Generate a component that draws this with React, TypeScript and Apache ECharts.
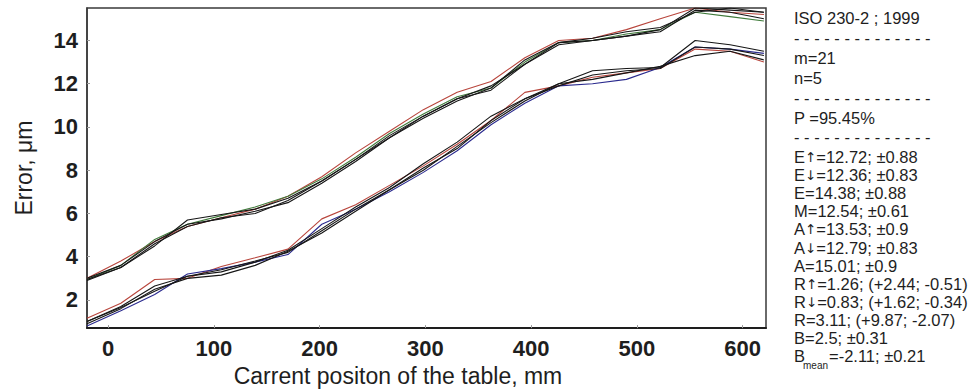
import React, { useEffect, useRef } from "react";
import * as echarts from "echarts";

// Target positions (ISO 230-2, m = 21, irregular spacing), mm
const positions = [-20, 12, 44, 75, 107, 139, 170, 202, 234, 266, 298, 330, 362, 394, 426, 458, 490, 522, 555, 588, 620];

// Upper group of runs
const upperRun1 = [2.95, 3.5, 4.5, 5.7, 5.95, 6.2, 6.7, 7.5, 8.5, 9.5, 10.5, 11.3, 11.9, 12.9, 13.9, 14.0, 14.2, 14.5, 15.5, 15.4, 15.3];
const upperRun2 = [3.0, 3.8, 4.7, 5.4, 5.8, 6.2, 6.8, 7.7, 8.8, 9.8, 10.8, 11.6, 12.1, 13.2, 14.0, 14.1, 14.5, 15.0, 15.5, 15.3, 15.2];
const upperRun3 = [2.95, 3.6, 4.8, 5.5, 5.9, 6.3, 6.8, 7.6, 8.6, 9.7, 10.6, 11.4, 11.8, 13.0, 13.9, 14.0, 14.3, 14.5, 15.3, 15.1, 14.9];
const upperRun4 = [2.9, 3.5, 4.6, 5.4, 5.8, 6.0, 6.6, 7.5, 8.5, 9.6, 10.5, 11.3, 11.7, 12.9, 13.8, 14.0, 14.2, 14.4, 15.4, 15.3, 15.0];
const upperRun5 = [3.0, 3.6, 4.7, 5.5, 5.75, 6.1, 6.5, 7.4, 8.4, 9.5, 10.4, 11.2, 11.8, 13.1, 13.9, 14.1, 14.4, 14.6, 15.3, 15.5, 15.3];

// Lower group of runs
const lowerRun1 = [1.0, 1.7, 2.65, 3.1, 3.3, 3.75, 4.3, 5.3, 6.3, 7.2, 8.3, 9.3, 10.5, 11.3, 12.0, 12.6, 12.7, 12.75, 14.0, 13.8, 13.5];
const lowerRun2 = [1.15, 1.85, 2.95, 3.0, 3.55, 3.95, 4.35, 5.75, 6.4, 7.3, 8.2, 9.2, 10.3, 11.6, 11.9, 12.3, 12.5, 12.7, 13.6, 13.5, 13.0];
const lowerRun3 = [0.8, 1.5, 2.25, 3.2, 3.45, 3.75, 4.1, 5.5, 6.2, 7.0, 7.9, 8.9, 10.1, 11.1, 11.9, 12.0, 12.2, 12.75, 13.7, 13.6, 13.4];
const lowerRun4 = [0.9, 1.6, 2.5, 3.0, 3.15, 3.6, 4.25, 5.1, 6.1, 7.1, 8.0, 9.1, 10.2, 11.2, 12.0, 12.2, 12.5, 12.8, 13.3, 13.5, 13.1];
const lowerRun5 = [1.0, 1.65, 2.4, 3.1, 3.4, 3.8, 4.2, 5.2, 6.2, 7.1, 8.1, 9.0, 10.3, 11.3, 11.9, 12.4, 12.6, 12.7, 13.7, 13.6, 13.3];

const xTicks = [0, 100, 200, 300, 400, 500, 600];
const yTicks = [2, 4, 6, 8, 10, 12, 14];

const DASHES = "- - - - - - - - - - - - - -";
const headerLines = ["ISO 230-2 ; 1999", DASHES, "m=21", "n=5", DASHES, "P =95.45%", DASHES];
const statLines = [
  "E↑=12.72; ±0.88",
  "E↓=12.36; ±0.83",
  "E=14.38; ±0.88",
  "M=12.54; ±0.61",
  "A↑=13.53; ±0.9",
  "A↓=12.79; ±0.83",
  "A=15.01; ±0.9",
  "R↑=1.26; (+2.44; -0.51)",
  "R↓=0.83; (+1.62; -0.34)",
  "R=3.11; (+9.87; -2.07)",
  "B=2.5; ±0.31",
];
const bMeanParts = ["B", "mean", "=-2.11; ±0.21"];

const FONT = "'Liberation Sans', Arial, Helvetica, sans-serif";
const BLACK = "#161616";
const RED = "#b8453c";
const GREEN = "#3f7a3a";
const BLUE = "#2a2a8e";

const runs = [
  { data: upperRun2, color: RED },
  { data: upperRun3, color: GREEN },
  { data: upperRun1, color: BLACK },
  { data: upperRun4, color: BLACK },
  { data: upperRun5, color: BLACK },
  { data: lowerRun2, color: RED },
  { data: lowerRun3, color: BLUE },
  { data: lowerRun1, color: BLACK },
  { data: lowerRun4, color: BLACK },
  { data: lowerRun5, color: BLACK },
];

// Convert arrows into a rich-text fragment drawn with a font whose arrows are full height
function toRich(t: string): string {
  return t.replace(/([↑↓])/g, "{arr|$1}");
}

export default function App() {
  const ref = useRef<HTMLDivElement>(null);
  useEffect(() => {
    if (!ref.current) return;
    const chart = echarts.init(ref.current, null, { renderer: "svg" });

    const textX = 794;
    const baseStyle = { fontSize: 16.5, fontFamily: FONT, fill: "#1e1e1e", verticalAlign: "middle", align: "left" };
    const rich = { arr: { fontSize: 13.5, fontFamily: "'DejaVu Sans', sans-serif", fill: "#1e1e1e" } };
    const graphics: any[] = [];
    headerLines.forEach((t, i) => {
      graphics.push({ type: "text", x: textX, y: 18 + i * 19.9, style: { ...baseStyle, text: t } });
    });
    statLines.forEach((t, j) => {
      graphics.push({ type: "text", x: textX, y: 157 + j * 18.1, style: { ...baseStyle, text: toRich(t), rich } });
    });
    const bY = 157 + statLines.length * 18.1;
    graphics.push({ type: "text", x: textX, y: bY, style: { ...baseStyle, text: bMeanParts[0] } });
    graphics.push({
      type: "text", x: textX + 9, y: bY + 9,
      style: { ...baseStyle, text: bMeanParts[1], fontSize: 10 },
    });
    graphics.push({ type: "text", x: textX + 35, y: bY, style: { ...baseStyle, text: bMeanParts[2] } });

    chart.setOption({
      animation: false,
      backgroundColor: "#ffffff",
      grid: {
        left: 87,
        top: 8,
        width: 679,
        height: 324,
        show: true,
        borderColor: "#3a3a3a",
        borderWidth: 1.5,
        backgroundColor: "transparent",
      },
      xAxis: {
        type: "value",
        min: -20,
        max: 622,
        name: "Carrent positon of the table, mm",
        nameLocation: "middle",
        nameGap: 34,
        nameTextStyle: { fontSize: 23, fontFamily: FONT, color: "#1e1e1e", padding: [0, 57, 0, 0] },
        axisLine: { show: true, onZero: false, lineStyle: { color: "#1e1e1e", width: 2 } },
        axisTick: { show: true, inside: true, length: 3, customValues: xTicks, lineStyle: { color: "#9a9a9a" } },
        axisLabel: { customValues: xTicks, fontSize: 22, fontWeight: "bold", fontFamily: FONT, color: "#1e1e1e", margin: 9 },
        splitLine: { show: false },
      },
      yAxis: {
        type: "value",
        min: 0.7,
        max: 15.5,
        name: "Error, μm",
        nameLocation: "middle",
        nameGap: 52,
        nameTextStyle: { fontSize: 23, fontFamily: FONT, color: "#1e1e1e" },
        axisLine: { show: true, onZero: false, lineStyle: { color: "#3a3a3a", width: 1.5 } },
        axisTick: { show: true, inside: true, length: 3, customValues: yTicks, lineStyle: { color: "#9a9a9a" } },
        axisLabel: { customValues: yTicks, fontSize: 22, fontWeight: "bold", fontFamily: FONT, color: "#1e1e1e", margin: 9 },
        splitLine: { show: false },
      },
      series: runs.map((r) => ({
        type: "line",
        data: positions.map((x, i) => [x, r.data[i]]),
        showSymbol: false,
        symbol: "none",
        lineStyle: { color: r.color, width: 1.1 },
        itemStyle: { color: r.color },
        clip: true,
      })),
      graphic: graphics,
    });
    return () => chart.dispose();
  }, []);
  return <div ref={ref} style={{ position: "fixed", left: 0, top: 0, width: 970, height: 392, background: "#fff" }} />;
}
